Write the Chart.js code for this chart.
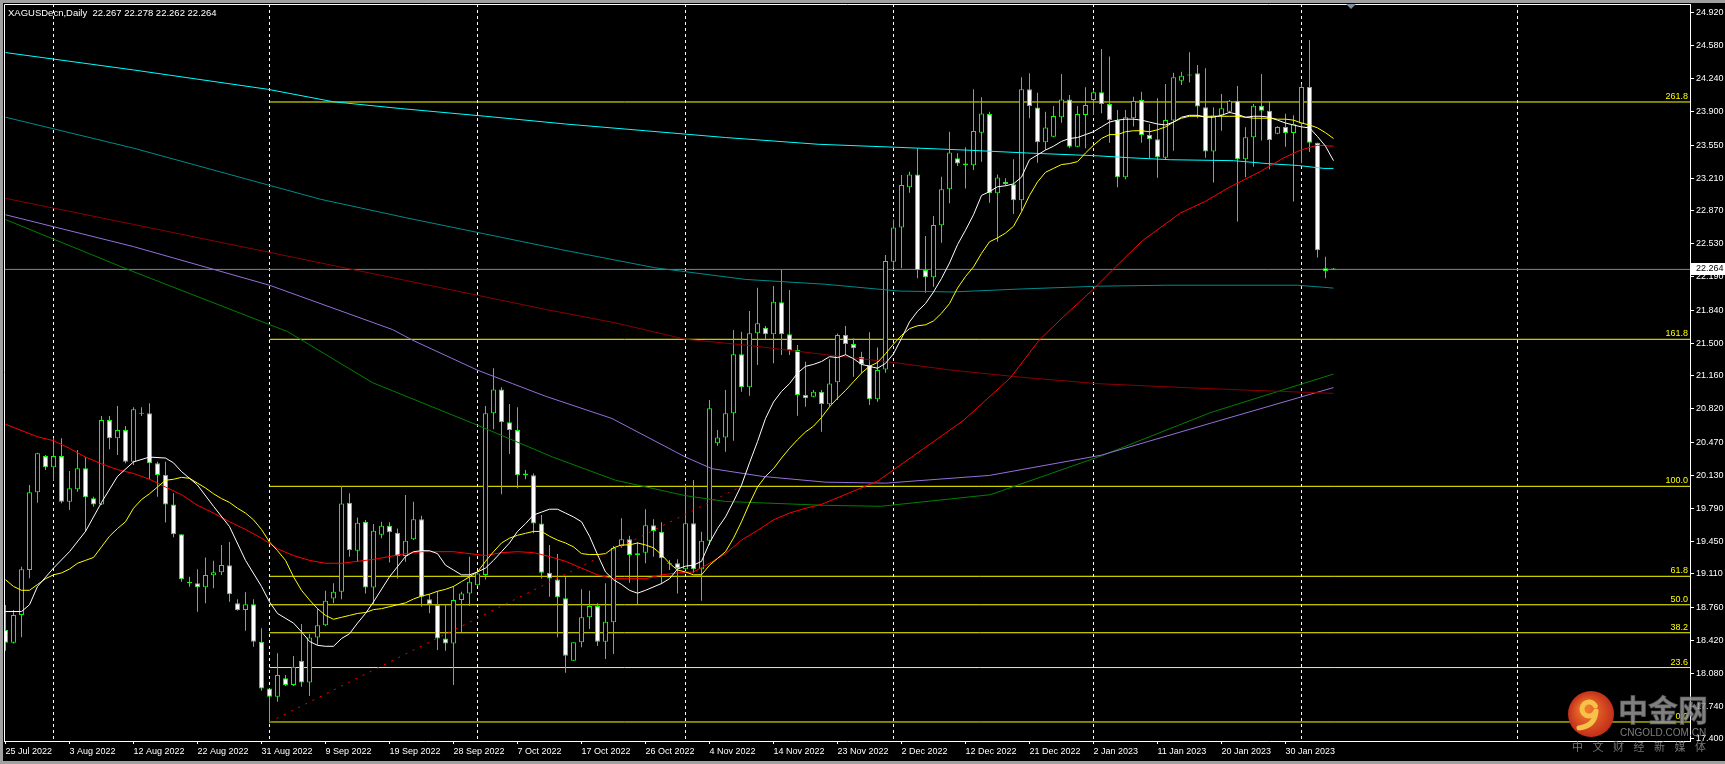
<!DOCTYPE html>
<html lang="zh">
<head>
<meta charset="UTF-8">
<title>XAGUSDecn,Daily</title>
<script src="https://cdn.jsdelivr.net/npm/chart.js@4.4.1/dist/chart.umd.min.js"></script>
<style>
  html, body { margin: 0; padding: 0; background: #000; }
  canvas { display: block; background: #000; }
</style>
</head>
<body>
<canvas id="chart" width="1725" height="764"></canvas>
<script>
// ---- data ----
const symbolTitle = 'XAGUSDecn,Daily';
const lastQuote = [22.267, 22.278, 22.262, 22.264]; // O H L C of the live bar

// daily bars, index 0 = 25 Jul 2022 (broker has Sunday bars)
const opens = [
  18.529, 18.397, 18.684, 19.150, 19.955, 20.331, 20.214, 20.331, 19.858, 19.986,
  20.203, 19.893, 19.830, 20.704, 20.514, 20.600, 20.272, 20.773, 20.773, 20.255,
  20.134, 19.830, 19.520, 19.029, 19.012, 18.971, 19.095, 19.126, 19.199, 18.805,
  18.736, 18.795, 18.408, 17.924, 17.838, 18.028, 17.959, 18.211, 17.986, 18.452,
  18.577, 18.856, 18.925, 19.847, 19.350, 19.650, 18.970, 19.516, 19.609, 19.537,
  19.295, 19.468, 19.675, 18.846, 18.787, 18.442, 18.390, 18.839, 18.908, 18.991,
  19.098, 20.773, 21.021, 20.680, 20.600, 20.151, 20.131, 19.633, 19.122, 19.053,
  18.857, 18.211, 18.401, 18.660, 18.777, 18.408, 18.608, 19.399, 19.468, 19.323,
  19.330, 19.613, 19.547, 19.219, 19.219, 19.157, 19.634, 19.157, 19.454, 20.462,
  20.524, 20.773, 21.384, 21.042, 21.602, 21.660, 21.591, 21.923, 21.591, 21.429,
  20.963, 20.946, 20.997, 20.866, 21.094, 21.584, 21.491, 21.360, 21.273, 20.918,
  21.228, 22.344, 22.699, 23.114, 23.248, 22.257, 22.182, 22.720, 23.093, 23.414,
  23.362, 23.342, 23.680, 23.873, 23.052, 23.172, 23.145, 22.979, 24.129, 23.942,
  23.580, 23.639, 23.839, 24.025, 23.535, 23.863, 24.018, 24.098, 23.977, 23.812,
  23.218, 23.829, 24.019, 23.656, 23.611, 23.421, 23.805, 24.219, 24.278, 24.295,
  23.943, 23.484, 23.857, 23.898, 24.012, 23.404, 23.632, 23.960, 23.908, 23.670,
  23.739, 23.677, 23.774, 24.153, 23.577, 22.275, 22.267
];
const highs = [
  18.788, 18.736, 19.185, 20.031, 20.366, 20.342, 20.514, 20.514, 20.176, 20.393,
  20.317, 19.910, 20.746, 20.746, 20.849, 20.642, 20.835, 20.835, 20.877, 20.272,
  20.272, 19.944, 19.520, 19.081, 19.157, 19.281, 19.247, 19.409, 19.440, 18.846,
  18.919, 18.846, 18.546, 17.924, 18.287, 18.062, 18.259, 18.590, 18.487, 18.753,
  18.936, 19.012, 20.020, 19.944, 19.695, 19.668, 19.626, 19.650, 19.644, 19.581,
  19.927, 19.858, 19.713, 18.898, 18.932, 18.798, 18.984, 18.925, 19.288, 19.122,
  20.849, 21.239, 21.042, 20.869, 20.835, 20.186, 20.151, 19.720, 19.409, 19.316,
  19.081, 18.401, 18.950, 18.936, 18.805, 19.012, 19.399, 19.685, 19.506, 19.437,
  19.779, 19.675, 19.644, 19.254, 19.261, 20.037, 20.082, 19.547, 20.911, 20.600,
  21.015, 21.636, 21.619, 21.833, 22.075, 21.678, 22.092, 22.258, 22.051, 21.481,
  21.308, 21.015, 21.015, 21.332, 21.601, 21.677, 21.550, 21.411, 21.612, 21.456,
  22.413, 22.782, 23.242, 23.276, 23.518, 22.610, 22.817, 23.224, 23.690, 23.466,
  23.528, 24.129, 24.046, 23.898, 23.248, 23.207, 23.404, 24.253, 24.295, 24.094,
  23.898, 23.956, 24.288, 24.070, 23.956, 24.150, 24.122, 24.547, 24.468, 23.915,
  23.915, 24.053, 24.105, 23.770, 24.036, 24.185, 24.302, 24.312, 24.513, 24.381,
  24.347, 23.943, 24.081, 24.019, 24.164, 23.736, 23.977, 24.288, 24.009, 23.746,
  23.877, 23.860, 24.181, 24.640, 23.577, 22.396, 22.278
];
const lows = [
  18.315, 18.390, 18.453, 19.064, 19.848, 20.186, 20.076, 19.841, 19.772, 19.962,
  19.547, 19.806, 19.824, 20.400, 20.342, 20.255, 20.238, 20.746, 20.089, 19.910,
  19.641, 19.489, 19.029, 18.978, 18.719, 18.805, 18.960, 19.098, 18.822, 18.729,
  18.522, 18.356, 17.900, 17.562, 17.786, 17.948, 17.948, 17.941, 17.845, 18.373,
  18.570, 18.805, 18.846, 19.288, 19.236, 18.908, 18.787, 19.478, 19.229, 19.063,
  19.236, 19.461, 18.770, 18.701, 18.321, 18.314, 17.959, 18.494, 18.777, 18.984,
  19.053, 20.607, 19.934, 20.351, 19.996, 20.089, 19.530, 19.063, 18.874, 18.453,
  18.087, 18.211, 18.349, 18.539, 18.363, 18.228, 18.280, 19.381, 19.019, 18.798,
  19.219, 19.288, 19.002, 19.150, 18.908, 19.150, 19.122, 18.832, 19.409, 20.438,
  20.376, 20.490, 20.997, 20.956, 21.274, 21.540, 21.291, 21.377, 21.377, 20.749,
  20.842, 20.939, 20.583, 20.842, 20.911, 21.377, 21.152, 21.187, 20.859, 20.894,
  21.194, 22.275, 22.275, 23.059, 22.171, 22.023, 22.085, 22.541, 22.948, 23.335,
  23.103, 23.293, 23.380, 22.955, 22.551, 23.131, 22.838, 22.872, 23.829, 23.369,
  23.501, 23.632, 23.784, 23.518, 23.528, 23.518, 23.863, 23.881, 23.577, 23.114,
  23.197, 23.743, 23.577, 23.415, 23.214, 23.397, 23.494, 24.174, 24.200, 23.829,
  23.421, 23.163, 23.701, 23.881, 22.759, 23.218, 23.328, 23.598, 23.301, 23.663,
  23.535, 22.966, 23.363, 23.480, 22.386, 22.171, 22.262
];
const closes = [
  18.397, 18.684, 19.157, 19.955, 20.359, 20.214, 20.331, 19.858, 19.996, 20.203,
  19.903, 19.830, 20.704, 20.514, 20.600, 20.272, 20.815, 20.768, 20.255, 20.134,
  19.830, 19.520, 19.054, 19.012, 18.971, 19.098, 19.126, 19.202, 18.898, 18.736,
  18.795, 18.408, 17.924, 17.838, 18.063, 17.959, 18.148, 17.986, 18.452, 18.577,
  18.832, 18.925, 19.840, 19.357, 19.640, 18.970, 19.557, 19.609, 19.540, 19.295,
  19.454, 19.675, 18.874, 18.798, 18.442, 18.390, 18.839, 18.908, 19.029, 19.115,
  20.773, 21.021, 20.680, 20.600, 20.131, 20.131, 19.633, 19.122, 19.063, 18.867,
  18.263, 18.401, 18.660, 18.777, 18.408, 18.615, 19.381, 19.468, 19.306, 19.302,
  19.613, 19.554, 19.271, 19.214, 19.167, 19.634, 19.157, 19.454, 20.825, 20.524,
  20.773, 21.384, 21.042, 21.602, 21.705, 21.591, 21.930, 21.591, 21.429, 20.963,
  20.928, 20.997, 20.870, 21.083, 21.584, 21.491, 21.446, 21.280, 20.918, 21.221,
  22.351, 22.699, 23.138, 23.248, 22.257, 22.182, 22.724, 23.093, 23.476, 23.362,
  23.342, 23.697, 23.880, 23.052, 23.217, 23.148, 22.979, 24.129, 23.956, 23.580,
  23.735, 23.853, 24.025, 23.535, 23.873, 23.967, 24.098, 23.977, 23.812, 23.218,
  23.839, 24.008, 23.656, 23.611, 23.425, 23.812, 24.254, 24.271, 24.272, 23.950,
  23.484, 23.857, 23.933, 24.012, 23.404, 23.632, 23.960, 23.908, 23.605, 23.739,
  23.677, 23.767, 24.153, 23.577, 22.461, 22.247, 22.264
];

// time axis labels (every 8th bar) and month separators
const dateTickBars = [0, 8, 16, 24, 32, 40, 48, 56, 64, 72, 80, 88, 96, 104, 112, 120, 128, 136, 144, 152, 160];
const dateTickLabels = ['25 Jul 2022', '3 Aug 2022', '12 Aug 2022', '22 Aug 2022', '31 Aug 2022', '9 Sep 2022',
  '19 Sep 2022', '28 Sep 2022', '7 Oct 2022', '17 Oct 2022', '26 Oct 2022', '4 Nov 2022', '14 Nov 2022',
  '23 Nov 2022', '2 Dec 2022', '12 Dec 2022', '21 Dec 2022', '2 Jan 2023', '11 Jan 2023', '20 Jan 2023', '30 Jan 2023'];
const monthStartBars = [6, 33, 59, 85, 111, 136, 162, 189];

const priceTicks = [24.920, 24.580, 24.240, 23.900, 23.550, 23.210, 22.870, 22.530, 22.190, 21.840, 21.500,
  21.160, 20.820, 20.470, 20.130, 19.790, 19.450, 19.110, 18.760, 18.420, 18.080, 17.740, 17.400];

// fibonacci retracement (drawn from the 1 Sep low to the early Nov high)
const fibLabels = ['0.0', '23.6', '38.2', '50.0', '61.8', '100.0', '161.8', '261.8'];
const fibPrices = [17.576, 18.140, 18.500, 18.790, 19.085, 20.017, 21.540, 23.998];
const fibStartBar = 33;
const fibTrend = [[33, 17.576], [92, 20.017]];

// moving averages, [bar, price]
const maWhite = [[0,18.72],[2,18.72],[3,18.79],[4,18.98],[6,19.17],[8,19.34],[10,19.55],[12,19.85],[14,20.12],[16,20.27],
  [18,20.32],[20,20.31],[21,20.26],[22,20.17],[24,20.03],[26,19.81],[28,19.60],[30,19.25],[32,18.98],[33,18.82],
  [34,18.70],[36,18.60],[37,18.51],[38,18.41],[39,18.37],[40,18.36],[41,18.36],[42,18.44],[43,18.49],[44,18.60],
  [45,18.70],[46,18.82],[48,19.08],[50,19.29],[51,19.34],[52,19.35],[53,19.35],[54,19.32],[55,19.20],[56,19.15],
  [57,19.10],[58,19.10],[59,19.13],[60,19.17],[61,19.25],[62,19.34],[63,19.43],[64,19.55],[65,19.63],[66,19.72],
  [67,19.75],[68,19.78],[69,19.78],[70,19.74],[71,19.70],[72,19.65],[73,19.50],[74,19.31],[75,19.13],[76,19.05],
  [77,19.00],[78,18.94],[79,18.91],[80,18.94],[82,19.01],[83,19.06],[84,19.16],[85,19.19],[86,19.20],[87,19.24],
  [88,19.43],[89,19.58],[90,19.70],[91,19.86],[92,20.03],[93,20.26],[94,20.48],[95,20.72],[96,20.89],[97,21.00],
  [98,21.08],[99,21.19],[100,21.26],[101,21.28],[102,21.31],[103,21.36],[104,21.35],[105,21.38],[106,21.34],[107,21.28],
  [108,21.26],[109,21.24],[110,21.29],[111,21.39],[112,21.55],[113,21.72],[114,21.83],[115,21.91],[116,22.03],[117,22.17],
  [118,22.33],[119,22.52],[120,22.67],[121,22.83],[122,23.03],[123,23.07],[124,23.12],[125,23.13],[126,23.15],[127,23.22],
  [128,23.40],[129,23.45],[130,23.50],[131,23.54],[132,23.59],[133,23.62],[134,23.63],[135,23.66],[136,23.69],[137,23.74],
  [138,23.79],[139,23.81],[140,23.82],[141,23.82],[142,23.81],[143,23.79],[144,23.77],[145,23.76],[146,23.79],[147,23.84],
  [148,23.86],[149,23.86],[150,23.84],[151,23.84],[152,23.86],[153,23.89],[154,23.87],[155,23.84],[156,23.85],[157,23.85],
  [158,23.84],[159,23.81],[160,23.78],[161,23.76],[162,23.74],[163,23.73],[164,23.64],[165,23.54],[166,23.39]];
const maYellow = [[0,19.05],[1,18.98],[2,18.94],[3,18.94],[4,19.00],[5,19.06],[6,19.10],[7,19.12],[8,19.16],[9,19.22],
  [10,19.25],[11,19.28],[12,19.39],[13,19.50],[14,19.58],[15,19.65],[16,19.79],[17,19.88],[18,19.94],[19,20.01],
  [20,20.08],[21,20.09],[22,20.11],[23,20.10],[24,20.05],[25,20.00],[26,19.94],[27,19.89],[28,19.85],[29,19.79],
  [30,19.74],[31,19.67],[32,19.57],[33,19.44],[34,19.35],[35,19.25],[36,19.08],[37,18.94],[38,18.84],[39,18.75],
  [40,18.68],[41,18.64],[42,18.66],[43,18.68],[44,18.70],[45,18.71],[46,18.74],[47,18.75],[48,18.77],[49,18.79],
  [50,18.81],[51,18.85],[52,18.88],[53,18.90],[54,18.93],[55,18.95],[56,18.98],[57,19.03],[58,19.08],[59,19.13],
  [60,19.24],[61,19.34],[62,19.43],[63,19.48],[64,19.51],[65,19.53],[66,19.55],[67,19.55],[68,19.50],[69,19.46],
  [70,19.43],[71,19.39],[72,19.32],[73,19.31],[74,19.31],[75,19.32],[76,19.38],[77,19.41],[78,19.41],[79,19.43],
  [80,19.41],[81,19.38],[82,19.31],[83,19.22],[84,19.15],[85,19.13],[86,19.10],[87,19.10],[88,19.20],[89,19.27],
  [90,19.34],[91,19.48],[92,19.65],[93,19.84],[94,20.01],[95,20.12],[96,20.20],[97,20.31],[98,20.41],[99,20.50],
  [100,20.58],[101,20.64],[102,20.73],[103,20.84],[104,20.93],[105,21.01],[106,21.10],[107,21.19],[108,21.26],[109,21.30],
  [110,21.39],[111,21.49],[112,21.58],[113,21.65],[114,21.68],[115,21.69],[116,21.73],[117,21.81],[118,21.91],[119,22.07],
  [120,22.19],[121,22.29],[122,22.43],[123,22.55],[124,22.59],[125,22.64],[126,22.71],[127,22.86],[128,23.03],[129,23.17],
  [130,23.27],[131,23.31],[132,23.35],[133,23.36],[134,23.38],[135,23.47],[136,23.55],[137,23.62],[138,23.66],[139,23.66],
  [140,23.69],[141,23.70],[142,23.70],[143,23.69],[144,23.71],[145,23.74],[146,23.79],[147,23.83],[148,23.85],[149,23.85],
  [150,23.85],[151,23.85],[152,23.85],[153,23.85],[154,23.85],[155,23.84],[156,23.83],[157,23.83],[158,23.83],[159,23.82],
  [160,23.82],[161,23.81],[162,23.78],[163,23.76],[164,23.73],[165,23.68],[166,23.62]];
const maRed = [[0,20.66],[4,20.53],[6,20.49],[8,20.41],[10,20.32],[12,20.25],[14,20.19],[16,20.15],[18,20.09],[20,20.01],
  [22,19.93],[24,19.82],[26,19.74],[28,19.65],[30,19.57],[32,19.48],[34,19.37],[36,19.30],[38,19.25],[40,19.22],
  [42,19.22],[44,19.24],[46,19.26],[48,19.29],[50,19.32],[52,19.34],[54,19.34],[56,19.34],[58,19.32],[60,19.30],
  [62,19.33],[64,19.34],[66,19.33],[68,19.29],[70,19.24],[72,19.17],[74,19.10],[76,19.06],[78,19.06],[80,19.06],
  [82,19.10],[84,19.12],[86,19.13],[88,19.22],[90,19.32],[92,19.46],[94,19.56],[96,19.67],[98,19.74],[100,19.79],
  [102,19.83],[109,20.07],[119.75,20.70],[125.6,21.14],[129.2,21.53],[132.7,21.81],[136,22.06],[138.75,22.29],
  [142.1,22.56],[146.9,22.85],[150,22.97],[153.1,23.12],[156.9,23.28],[159.8,23.42],[161.9,23.50],[164,23.55],[166,23.54]];
const maDarkRed = [[0,23.00],[16,22.73],[33,22.44],[50,22.15],[67.5,21.85],[76.25,21.71],[85,21.54],[92.5,21.48],
  [101.6,21.39],[111,21.30],[118.3,21.22],[126.6,21.15],[136.6,21.08],[150,21.03],[166,20.98]];
const maCyan = [[0,24.51],[16,24.33],[32.75,24.13],[41,24.00],[49.4,23.93],[60,23.85],[70,23.77],[80,23.70],[90,23.63],
  [101.6,23.56],[111,23.53],[120,23.50],[127.6,23.47],[136.6,23.44],[140.6,23.42],[145.6,23.40],[153.5,23.39],
  [157.7,23.36],[161.6,23.34],[164.8,23.31],[166,23.31]];
const maTeal = [[0,23.84],[16,23.52],[32.75,23.14],[39.4,22.99],[50,22.80],[60,22.63],[69.4,22.47],[81.25,22.28],
  [92.5,22.16],[102.5,22.11],[111.6,22.04],[118.3,22.03],[126.6,22.06],[136.6,22.09],[145,22.10],[161.5,22.10],
  [164.6,22.08],[166,22.07]];
const maPurple = [[0,22.83],[16,22.50],[33,22.10],[48.4,21.64],[50.9,21.53],[59,21.22],[63.4,21.08],[67.5,20.95],
  [75.8,20.72],[85,20.32],[88.3,20.20],[94.6,20.12],[102.5,20.06],[110,20.05],[123,20.13],[137,20.34],[150.6,20.67],[166,21.04]];
const maGreen = [[0,22.78],[16,22.24],[35.25,21.62],[45.9,21.09],[59,20.65],[68.4,20.32],[76.25,20.08],[85,19.92],
  [90,19.86],[102.5,19.82],[109.4,19.81],[123.1,19.93],[136.9,20.33],[150.6,20.78],[166,21.18]];

const watermarkName = '中金网';
const watermarkSite = 'CNGOLD.COM.CN';
const watermarkSlogan = '中文财经新媒体';

// ---- chart ----
const xMin = -0.1875, xMax = 210.5625;
const yMin = 17.379, yMax = 25.013;
const FONT = '"Liberation Sans", Arial, sans-serif';
const GREEN = '#00ff00';

const barIdx = opens.map((_, i) => i);
const wickData = barIdx.map(i => ({ x: i, y: [lows[i], highs[i]] }));
const bodyData = barIdx.map(i => ({ x: i, y: [opens[i], closes[i]] }));
const bodyFill = barIdx.map(i => closes[i] < opens[i] ? '#ffffff' : '#000000');
const toPts = arr => arr.map(p => ({ x: p[0], y: p[1] }));

function lineSet(points, color, order, extra) {
    return Object.assign({
        type: 'line', data: points, borderColor: color, borderWidth: 1,
        pointRadius: 0, tension: 0, fill: false, order: order
    }, extra || {});
}

const datasets = [
    { type: 'bar', data: wickData, backgroundColor: GREEN, borderWidth: 0, barThickness: 1, maxBarThickness: 1,
      minBarLength: 1, grouped: false, inflateAmount: 0, order: 21 },
    { type: 'bar', data: bodyData, backgroundColor: bodyFill, borderColor: GREEN, borderWidth: 1, borderSkipped: false,
      barThickness: 5, maxBarThickness: 5, minBarLength: 1, grouped: false, inflateAmount: 0, order: 20 },
    lineSet(toPts(maCyan), '#00ffff', 8),
    lineSet(toPts(maTeal), '#008b8b', 8),
    lineSet(toPts(maDarkRed), '#8b0000', 8),
    lineSet(toPts(maPurple), '#9370db', 8),
    lineSet(toPts(maGreen), '#008000', 8),
    lineSet(toPts(maRed), '#ff0000', 6),
    lineSet(toPts(maYellow), '#ffff00', 5),
    lineSet(toPts(maWhite), '#ffffff', 4),
    lineSet(toPts(fibTrend), '#ff0000', 3, { borderDash: [2, 6] }),
    lineSet([{ x: xMin, y: lastQuote[3] }, { x: xMax, y: lastQuote[3] }], '#778899', 31)
];
fibPrices.forEach(p => {
    datasets.push(lineSet([{ x: fibStartBar, y: p }, { x: xMax, y: p }], '#ffff00', 30));
});

const mt4Decor = {
    id: 'mt4Decor',
    beforeDatasetsDraw(chart) {
        const { ctx, chartArea: a, scales: { x } } = chart;
        ctx.save();
        ctx.strokeStyle = '#ffffff';
        ctx.lineWidth = 1;
        ctx.setLineDash([3, 3]);
        monthStartBars.forEach(b => {
            const px = x.getPixelForValue(b);
            ctx.beginPath();
            ctx.moveTo(px, a.top);
            ctx.lineTo(px, a.bottom);
            ctx.stroke();
        });
        ctx.restore();
    },
    afterDraw(chart) {
        const { ctx, chartArea: a, scales: { y } } = chart;
        ctx.save();

        // window frame
        ctx.fillStyle = '#a0a0a0';
        ctx.fillRect(0, 0, chart.width, 3);
        ctx.fillRect(0, 0, 3, chart.height);
        ctx.fillRect(0, chart.height - 3, chart.width, 3);
        ctx.strokeStyle = '#ffffff';
        ctx.lineWidth = 1;
        ctx.beginPath();
        ctx.moveTo(a.left + 0.5, a.bottom);
        ctx.lineTo(a.left + 0.5, a.top + 0.5);
        ctx.lineTo(a.right, a.top + 0.5);
        ctx.stroke();

        // chart shift marker
        ctx.fillStyle = '#7f8fa0';
        ctx.beginPath();
        ctx.moveTo(1346, 4); ctx.lineTo(1356, 4); ctx.lineTo(1351, 9);
        ctx.closePath();
        ctx.fill();

        // header
        ctx.fillStyle = '#ffffff';
        ctx.font = '9.5px ' + FONT;
        ctx.textAlign = 'left';
        ctx.textBaseline = 'middle';
        ctx.fillText(symbolTitle + '  ' + lastQuote.map(v => v.toFixed(3)).join(' '), 8, 13);

        // fibo level captions
        ctx.fillStyle = '#ffff00';
        ctx.font = '9px ' + FONT;
        ctx.textAlign = 'right';
        ctx.textBaseline = 'bottom';
        fibPrices.forEach((p, i) => {
            ctx.fillText(fibLabels[i], a.right - 2, y.getPixelForValue(p) - 1);
        });

        // current price box on the axis
        const py = Math.round(y.getPixelForValue(lastQuote[3]));
        ctx.fillStyle = '#ffffff';
        ctx.fillRect(a.right + 1, py - 6, chart.width - a.right - 1, 12);
        ctx.fillStyle = '#000000';
        ctx.textAlign = 'left';
        ctx.textBaseline = 'middle';
        ctx.fillText(lastQuote[3].toFixed(3), a.right + 6, py);

        // watermark
        const cx = 1591, cy = 714, r = 23;
        const g = ctx.createRadialGradient(cx - 6, cy - 6, 3, cx, cy, r);
        g.addColorStop(0, '#f27a2c');
        g.addColorStop(1, '#c22e1a');
        ctx.fillStyle = g;
        ctx.beginPath();
        ctx.arc(cx, cy, r, 0, Math.PI * 2);
        ctx.fill();
        ctx.strokeStyle = '#f5c24a';
        ctx.lineWidth = 5;
        ctx.lineCap = 'round';
        ctx.beginPath();
        ctx.arc(cx - 2, cy - 5, 7, Math.PI * 0.15, Math.PI * 1.85);
        ctx.stroke();
        ctx.beginPath();
        ctx.moveTo(cx + 5, cy - 3);
        ctx.quadraticCurveTo(cx + 4, cy + 12, cx - 12, cy + 14);
        ctx.stroke();

        ctx.fillStyle = 'rgba(150,150,150,0.85)';
        ctx.strokeStyle = 'rgba(90,90,90,0.6)';
        ctx.lineWidth = 1;
        ctx.font = 'bold 30px "Noto Sans CJK SC"';
        ctx.textAlign = 'left';
        ctx.textBaseline = 'middle';
        ctx.fillText(watermarkName, 1618, 710);
        ctx.strokeText(watermarkName, 1618, 710);
        ctx.fillStyle = 'rgba(140,140,140,0.9)';
        ctx.font = '10px ' + FONT;
        ctx.fillText(watermarkSite, 1620, 733);
        ctx.fillStyle = 'rgba(130,130,130,0.9)';
        ctx.font = '11px "Noto Sans CJK SC"';
        watermarkSlogan.split('').forEach((ch, k) => ctx.fillText(ch, 1572 + k * 20.5, 747));
        ctx.restore();
    }
};

new Chart(document.getElementById('chart'), {
    type: 'bar',
    data: { datasets: datasets },
    plugins: [mt4Decor],
    options: {
        responsive: false,
        devicePixelRatio: 1,
        animation: false,
        events: [],
        layout: { padding: { left: 4, top: 4, right: 0, bottom: 0 } },
        plugins: { legend: { display: false }, tooltip: { enabled: false } },
        scales: {
            x: {
                type: 'linear', bounds: 'data', min: xMin, max: xMax, offset: false,
                afterBuildTicks: s => { s.ticks = dateTickBars.map(v => ({ value: v })); },
                afterFit: s => { s.height = 23; s.paddingLeft = 0; s.paddingRight = 0; },
                ticks: {
                    color: '#ffffff', font: { family: FONT, size: 9 }, align: 'start',
                    autoSkip: false, maxRotation: 0, minRotation: 0, padding: 2,
                    callback: (v, i) => dateTickLabels[i]
                },
                grid: { display: true, drawOnChartArea: false, drawTicks: true, tickLength: 3, color: '#ffffff', offset: false },
                border: { display: true, color: '#ffffff' }
            },
            y: {
                type: 'linear', position: 'right', bounds: 'data', min: yMin, max: yMax,
                afterBuildTicks: s => { s.ticks = priceTicks.map(v => ({ value: v })); },
                afterFit: s => { s.width = 35; s.paddingTop = 0; s.paddingBottom = 0; },
                ticks: {
                    color: '#ffffff', font: { family: FONT, size: 9 }, autoSkip: false, padding: 2,
                    callback: v => v.toFixed(3)
                },
                grid: { display: true, drawOnChartArea: false, drawTicks: true, tickLength: 4, color: '#ffffff' },
                border: { display: true, color: '#ffffff' }
            }
        }
    }
});
</script>
</body>
</html>
